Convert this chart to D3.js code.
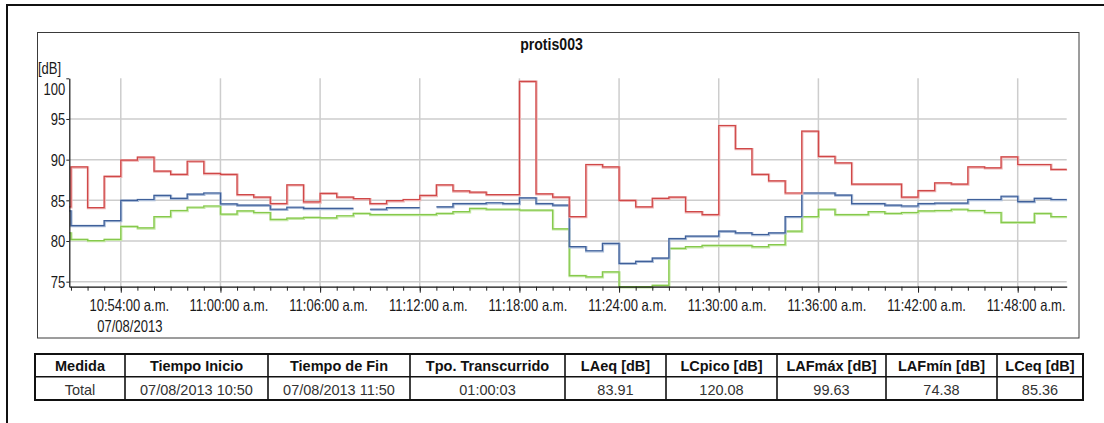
<!DOCTYPE html>
<html>
<head>
<meta charset="utf-8">
<script src="https://cdn.jsdelivr.net/npm/d3@7"></script>
<style>
  html, body { margin: 0; padding: 0; background: #fff; }
  svg { display: block; }
</style>
</head>
<body>
<svg id="chart" width="1104" height="423"></svg>
<script>
// ---------------- DATA ----------------
const chartTitle = "protis003";
const yUnit = "[dB]";
const dateLabel = "07/08/2013";
const startTime = "2013-08-07T10:50:54";
const endTime = "2013-08-07T11:50:57";
// sample start times (one value per interval, held until the next sample)
const sampleTimes = [
  "10:50:54","10:51:00","10:52:00","10:53:00","10:54:00","10:55:00","10:56:00","10:57:00","10:58:00","10:59:00",
  "11:00:00","11:01:00","11:02:00","11:03:00","11:04:00","11:05:00","11:06:00","11:07:00","11:08:00","11:09:00",
  "11:10:00","11:11:00","11:12:00","11:13:00","11:14:00","11:15:00","11:16:00","11:17:00","11:18:00","11:19:00",
  "11:20:00","11:21:00","11:22:00","11:23:00","11:24:00","11:25:00","11:26:00","11:27:00","11:28:00","11:29:00",
  "11:30:00","11:31:00","11:32:00","11:33:00","11:34:00","11:35:00","11:36:00","11:37:00","11:38:00","11:39:00",
  "11:40:00","11:41:00","11:42:00","11:43:00","11:44:00","11:45:00","11:46:00","11:47:00","11:48:00","11:49:00",
  "11:50:00"
];
// LAFmax (red)
const lafMax = [
  84.2, 89.1, 84.1, 87.95, 89.95, 90.3, 88.6, 88.2, 89.8, 88.3,
  88.2, 85.7, 85.4, 84.6, 86.9, 84.8, 85.86, 85.4, 85.2, 84.6,
  84.95, 85.1, 85.6, 86.9, 86.15, 86.0, 85.7, 85.7, 99.63, 85.8,
  85.4, 83.0, 89.4, 89.1, 85.0, 84.2, 85.25, 85.4, 83.6, 83.25,
  94.2, 91.35, 88.2, 87.4, 85.9, 93.5, 90.4, 89.6, 87.0, 87.0,
  87.0, 85.4, 86.2, 87.15, 87.0, 89.1, 89.0, 90.35, 89.4, 89.4,
  88.8
];
// LAeq (blue)
const laEq = [
  83.7, 81.9, 81.9, 82.5, 85.0, 85.1, 85.6, 85.25, 85.75, 85.9,
  84.55, 84.4, 84.4, 83.9, 84.15, 84.0, 84.0, 84.0, null, 83.9,
  84.1, 84.1, null, 84.2, 84.6, 84.6, 84.7, 84.6, 85.3, 84.6,
  84.4, 79.3, 78.8, 79.7, 77.25, 77.5, 77.9, 80.3, 80.6, 80.6,
  81.2, 81.0, 80.8, 81.0, 83.0, 85.9, 85.9, 85.65, 84.6, 84.6,
  84.4, 84.3, 84.6, 84.65, 84.65, 85.1, 85.1, 85.5, 84.85, 85.25,
  85.1
];
// LAFmin (green)
const lafMin = [
  81.0, 80.2, 80.05, 80.2, 81.8, 81.6, 83.0, 83.75, 84.15, 84.3,
  83.3, 83.7, 83.5, 82.65, 82.8, 82.9, 82.85, 83.1, 83.4, 83.25,
  83.25, 83.25, 83.25, 83.4, 83.6, 84.0, 83.9, 83.9, 83.8, 83.8,
  81.5, 75.75, 75.6, 76.2, 74.38, 74.38, 74.55, 79.1, 79.3, 79.45,
  79.45, 79.45, 79.3, 79.55, 81.2, 83.0, 83.9, 83.25, 83.25, 83.6,
  83.4, 83.5, 83.7, 83.75, 83.9, 83.75, 83.5, 82.3, 82.3, 83.4,
  83.0
];
const yDomain = [74.38, 100];
const yTicks = [75, 80, 85, 90, 95, 100];
const yGrid = [75, 80, 85, 90, 95];
const xLabelTimes = ["10:54:00","11:00:00","11:06:00","11:12:00","11:18:00","11:24:00","11:30:00","11:36:00","11:42:00","11:48:00"];

const tableHeaders = ["Medida","Tiempo Inicio","Tiempo de Fin","Tpo. Transcurrido","LAeq [dB]","LCpico [dB]","LAFmáx [dB]","LAFmín [dB]","LCeq [dB]"];
const tableValues  = ["Total","07/08/2013 10:50","07/08/2013 11:50","01:00:03","83.91","120.08","99.63","74.38","85.36"];

// ---------------- LAYOUT ----------------
const plot = { x0: 69.3, x1: 1066.7, top: 78.3, bottom: 286.7 };
const colEdges = [35, 125, 268, 410, 565, 666, 777, 886, 997, 1083];
const rowEdges = [354, 376.7, 400];
const chartFont = "'Liberation Sans', Arial, sans-serif";
const tableFont = "'Liberation Sans', Arial, sans-serif";
const labelSize = 16.5;
const squeeze = 0.79;

function condense(sel, f) {
  sel.each(function () {
    const w = this.getComputedTextLength();
    d3.select(this).attr("textLength", w * f).attr("lengthAdjust", "spacingAndGlyphs");
  });
}

const svg = d3.select("#chart");
const day = "2013-08-07T";
const parse = d3.isoParse;
const tStart = parse(startTime), tEnd = parse(endTime);

const x = d3.scaleTime().domain([tStart, tEnd]).range([plot.x0, plot.x1]);
const y = d3.scaleLinear().domain(yDomain).range([plot.bottom, plot.top]);

// outer frame (top & left)
svg.append("path").attr("d", "M7,423 V5 H1104").attr("fill", "none")
  .attr("stroke", "#111").attr("stroke-width", 2);
// chart frame
svg.append("rect").attr("x", 37.5).attr("y", 32.5).attr("width", 1041.5).attr("height", 305.5)
  .attr("fill", "none").attr("stroke", "#3a3a3a").attr("stroke-width", 1);

// title
const title = svg.append("text").attr("x", 551.5).attr("y", 50).attr("text-anchor", "middle")
  .attr("font-family", chartFont).attr("font-weight", "bold").attr("font-size", 16)
  .attr("fill", "#111").text(chartTitle);
condense(title, 0.88);

// grid
const grid = svg.append("g").attr("stroke", "#cdcdcd").attr("stroke-width", 1.5);
grid.selectAll("line.h").data(yGrid).join("line").attr("class", "h")
  .attr("x1", plot.x0).attr("x2", plot.x1)
  .attr("y1", d => y(d)).attr("y2", d => y(d));
const labelDates = xLabelTimes.map(s => parse(day + s));
grid.selectAll("line.v").data(labelDates).join("line").attr("class", "v")
  .attr("x1", d => x(d)).attr("x2", d => x(d))
  .attr("y1", plot.top).attr("y2", plot.bottom);

// series
const times = sampleTimes.map(s => parse(day + s));
function stepPoints(vals) {
  const pts = [];
  vals.forEach((v, i) => {
    const t0 = times[i], t1 = i + 1 < times.length ? times[i + 1] : tEnd;
    if (v == null) { pts.push({ t: t0, v: null }); return; }
    pts.push({ t: t0, v: v }, { t: t1, v: v });
  });
  return pts;
}
const line = d3.line().defined(d => d.v != null).x(d => x(d.t)).y(d => y(d.v));
const series = [
  { vals: lafMin, halo: "#c6e8a8", core: "#86c94c" },
  { vals: laEq,   halo: "#a9bbd7", core: "#3f609a" },
  { vals: lafMax, halo: "#eeb3b3", core: "#d04848" }
];
series.forEach(s => {
  const pts = stepPoints(s.vals);
  svg.append("path").attr("d", line(pts)).attr("fill", "none")
    .attr("stroke", s.halo).attr("stroke-width", 2.4).attr("transform", "translate(0.4,0.5)");
  svg.append("path").attr("d", line(pts)).attr("fill", "none")
    .attr("stroke", s.core).attr("stroke-width", 1.2);
});

// x axis: minute ticks
const minuteTicks = d3.timeMinute.range(d3.timeMinute.ceil(tStart), tEnd);
const xMinor = svg.append("g").attr("transform", `translate(0,${plot.bottom})`)
  .call(d3.axisBottom(x).tickValues(minuteTicks).tickSize(4).tickSizeOuter(0).tickFormat(""));
xMinor.select(".domain").attr("stroke", "#111").attr("stroke-width", 1.3);
xMinor.selectAll(".tick line").attr("stroke", "#222");
const fmt = d3.timeFormat("%I:%M:%S");
const xMajor = svg.append("g").attr("transform", `translate(0,${plot.bottom})`)
  .call(d3.axisBottom(x).tickValues(labelDates).tickSize(6).tickSizeOuter(0)
    .tickFormat(d => fmt(d) + " a.m."));
xMajor.select(".domain").remove();
xMajor.selectAll(".tick line").attr("stroke", "#222");
const xLabels = xMajor.selectAll(".tick text").attr("font-family", chartFont).attr("font-size", labelSize)
  .attr("fill", "#1a1a1a").attr("dy", null).attr("y", 24.5).attr("x", 8);
condense(xLabels, squeeze);
const dateTxt = svg.append("text").attr("x", x(labelDates[0]) + 9).attr("y", 331.5).attr("text-anchor", "middle")
  .attr("font-family", chartFont).attr("font-size", labelSize).attr("fill", "#1a1a1a").text(dateLabel);
condense(dateTxt, squeeze);

// y axis
const yAx = svg.append("g").attr("transform", `translate(${plot.x0},0)`)
  .call(d3.axisLeft(y).tickValues(yTicks).tickSize(3).tickSizeOuter(0));
yAx.select(".domain").attr("stroke", "#111").attr("stroke-width", 1.2);
yAx.selectAll(".tick line").attr("stroke", "#222");
const yLabels = yAx.selectAll(".tick text").attr("font-family", chartFont).attr("font-size", labelSize)
  .attr("fill", "#1a1a1a").attr("x", -4)
  .attr("dy", d => d === 100 ? "0.98em" : "0.35em");
condense(yLabels, squeeze);
const unitTxt = svg.append("text").attr("x", 38).attr("y", 73.5).attr("font-family", chartFont)
  .attr("font-size", labelSize).attr("fill", "#1a1a1a").text(yUnit);
condense(unitTxt, squeeze);

// table
const tbl = svg.append("g");
tbl.append("rect").attr("x", colEdges[0]).attr("y", rowEdges[0])
  .attr("width", colEdges[colEdges.length - 1] - colEdges[0])
  .attr("height", rowEdges[2] - rowEdges[0])
  .attr("fill", "none").attr("stroke", "#111").attr("stroke-width", 2);
tbl.append("line").attr("x1", colEdges[0]).attr("x2", colEdges[colEdges.length - 1])
  .attr("y1", rowEdges[1]).attr("y2", rowEdges[1]).attr("stroke", "#111").attr("stroke-width", 1.6);
tbl.selectAll("line.c").data(colEdges.slice(1, -1)).join("line").attr("class", "c")
  .attr("x1", d => d).attr("x2", d => d).attr("y1", rowEdges[0]).attr("y2", rowEdges[2])
  .attr("stroke", "#111").attr("stroke-width", 1.6);
const mid = i => (colEdges[i] + colEdges[i + 1]) / 2;
tbl.selectAll("text.h").data(tableHeaders).join("text").attr("class", "h")
  .attr("x", (d, i) => mid(i)).attr("y", 371).attr("text-anchor", "middle")
  .attr("font-family", tableFont).attr("font-weight", "bold").attr("font-size", 14.5)
  .attr("fill", "#111").text(d => d);
tbl.selectAll("text.v").data(tableValues).join("text").attr("class", "v")
  .attr("x", (d, i) => mid(i)).attr("y", 394.5).attr("text-anchor", "middle")
  .attr("font-family", tableFont).attr("font-size", 14.5)
  .attr("fill", "#333").text(d => d);
</script>
</body>
</html>
